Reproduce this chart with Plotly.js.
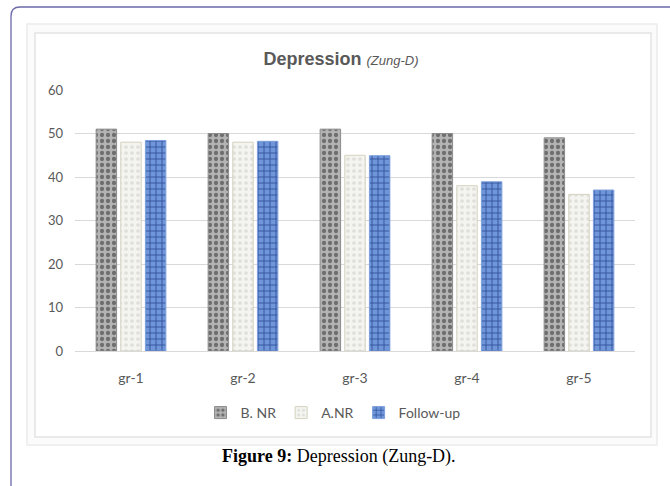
<!DOCTYPE html>
<html>
<head>
<meta charset="utf-8">
<script src="https://cdn.plot.ly/plotly-3.0.1.min.js"></script>
<style>
html,body{margin:0;padding:0;background:#fff;}
#chart{width:670px;height:486px;}
</style>
</head>
<body>
<div id="chart"></div>
<script>
const categories = ["gr-1", "gr-2", "gr-3", "gr-4", "gr-5"];
const seriesNames = ["B. NR", "A.NR", "Follow-up"];
const bNR = [51, 50, 51, 50, 49];
const aNR = [48, 48, 45, 38, 36];
const followUp = [48.4, 48.2, 44.9, 38.9, 37];
const yTicks = [0, 10, 20, 30, 40, 50, 60];

// plot area in pixels
const L = 75, R = 635, T = 90, B = 351;
const X = px => (px - L) / (R - L);
const Y = py => (B - py) / (B - T);

const traces = [
  {
    type: "bar", name: seriesNames[0], x: categories, y: bNR,
    marker: {
      color: "#a0a0a0",
      line: {color: "#8c8c8c", width: 1},
      pattern: {shape: ".", fgcolor: "#6e6e6e", bgcolor: "#b4b4b4", size: 6, solidity: 0.4, fillmode: "replace"}
    },
    hoverinfo: "none"
  },
  {
    type: "bar", name: seriesNames[1], x: categories, y: aNR,
    marker: {
      color: "#f1f1ee",
      line: {color: "#d5d2bf", width: 1},
      pattern: {shape: ".", fgcolor: "#e0e0da", bgcolor: "#f4f4f1", size: 6, solidity: 0.3, fillmode: "replace"}
    },
    hoverinfo: "none"
  },
  {
    type: "bar", name: seriesNames[2], x: categories, y: followUp,
    marker: {
      color: "#5a83cf",
      line: {color: "#7d9fdc", width: 1},
      pattern: {shape: "+", fgcolor: "#34559e", bgcolor: "#7096da", size: 6, solidity: 0.3, fillmode: "replace"}
    },
    hoverinfo: "none"
  }
];

const layout = {
  width: 670, height: 486,
  margin: {l: L, r: 670 - R, t: T, b: 486 - B},
  paper_bgcolor: "#ffffff",
  plot_bgcolor: "rgba(0,0,0,0)",
  showlegend: true,
  barmode: "group",
  bargap: 0.34,
  bargroupgap: 0.17,
  font: {family: "Lato, 'Open Sans', sans-serif", color: "#595959", size: 12},
  title: {
    text: "<b>Depression</b> <i><span style='font-size:13px;font-weight:normal'>(Zung-D)</span></i>",
    font: {family: "'Liberation Sans', sans-serif", size: 18, color: "#595959"},
    x: X(341), xref: "paper", xanchor: "center",
    y: 1 - 59 / 486, yref: "container", yanchor: "middle"
  },
  xaxis: {
    type: "category",
    showgrid: false,
    showline: true, linecolor: "#d9d9d9", linewidth: 1,
    ticks: "", ticklen: 0,
    ticklabelstandoff: 14,
    tickfont: {family: "Lato, sans-serif", size: 14, color: "#595959"},
    fixedrange: true
  },
  yaxis: {
    range: [0, 60],
    tickvals: yTicks,
    ticktext: yTicks.map(String),
    showgrid: true, gridcolor: "#d9d9d9", gridwidth: 1,
    zeroline: true, zerolinecolor: "#d9d9d9", zerolinewidth: 1,
    showline: false,
    ticks: "", ticklabelstandoff: 11,
    tickfont: {family: "Lato, sans-serif", size: 13, color: "#595959"},
    fixedrange: true
  },
  legend: {
    orientation: "h",
    x: X(333), xanchor: "center", xref: "paper",
    y: Y(413), yanchor: "middle", yref: "paper",
    font: {family: "Lato, sans-serif", size: 14, color: "#595959"},
    itemwidth: 30,
    traceorder: "normal",
    bgcolor: "rgba(0,0,0,0)"
  },
  shapes: [
    {
      type: "path", xref: "paper", yref: "paper", layer: "below",
      path: `M ${X(11)} ${Y(490)} L ${X(11)} ${Y(16)} Q ${X(11)} ${Y(7)} ${X(20)} ${Y(7)} L ${X(672)} ${Y(7)}`,
      line: {color: "#6b68a8", width: 1.3}
    },
    {
      type: "rect", xref: "paper", yref: "paper", layer: "below",
      x0: X(27), x1: X(657), y0: Y(445), y1: Y(24),
      line: {color: "#ececec", width: 1.5}, fillcolor: "#fbfbfb"
    },
    {
      type: "rect", xref: "paper", yref: "paper", layer: "below",
      x0: X(35), x1: X(651), y0: Y(437), y1: Y(33),
      line: {color: "#e3e3e3", width: 1.5}, fillcolor: "#ffffff"
    }
  ],
  annotations: [
    {
      xref: "paper", yref: "paper",
      x: X(339), y: Y(457), xanchor: "center", yanchor: "middle",
      showarrow: false,
      text: "<b>Figure 9:</b> Depression (Zung-D).",
      font: {family: "'Liberation Serif', 'DejaVu Serif', serif", size: 18, color: "#000000"}
    }
  ]
};

Plotly.newPlot("chart", traces, layout, {displayModeBar: false, staticPlot: true});
</script>
</body>
</html>
